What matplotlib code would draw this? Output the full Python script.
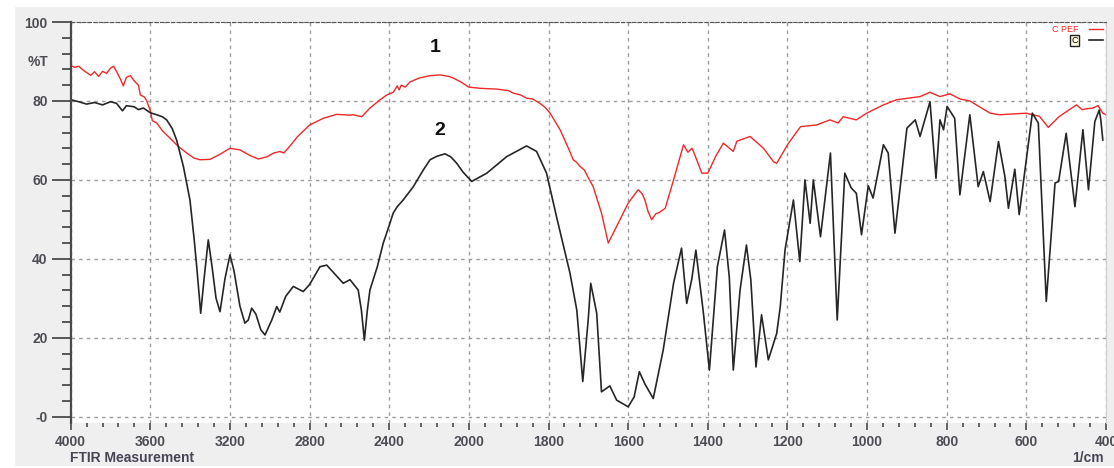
import numpy as np
import matplotlib
matplotlib.use("Agg")
import matplotlib.pyplot as plt
from matplotlib.patches import Rectangle
from matplotlib.ticker import FixedLocator, FixedFormatter

plt.rcParams['font.family'] = ['Liberation Sans', 'DejaVu Sans']

# espectro 1: C PEF (rojo)
wn_pef = [4000, 3980, 3960, 3940, 3920, 3900, 3880, 3860, 3840, 3820, 3800, 3785,
          3770, 3750, 3736, 3720, 3700, 3680, 3660, 3650, 3630, 3618, 3600, 3590,
          3568, 3540, 3500, 3460, 3417, 3380, 3350, 3300, 3250, 3200, 3150, 3100,
          3058, 3016, 2980, 2949, 2930, 2900, 2860, 2800, 2731, 2664, 2600, 2581,
          2538, 2497, 2446, 2413, 2380, 2360, 2350, 2340, 2320, 2296, 2250, 2195,
          2145, 2100, 2078, 2040, 2000, 1972, 1930, 1900, 1889, 1870, 1855, 1840,
          1822, 1810, 1796, 1771, 1750, 1738, 1730, 1721, 1710, 1700, 1688, 1667,
          1650, 1640, 1629, 1600, 1575, 1565, 1558, 1550, 1541, 1530, 1524, 1507,
          1486, 1461, 1450, 1440, 1436, 1415, 1400, 1380, 1361, 1336, 1327, 1294,
          1260, 1235, 1227, 1198, 1167, 1127, 1093, 1073, 1060, 1027, 1001, 959,
          926, 867, 842, 817, 792, 767, 742, 691, 667, 600, 567, 545, 517, 492,
          474, 460, 450, 433, 420, 408, 400]
t_pef = [89.0, 88.5, 88.8, 87.9, 87.2, 86.5, 87.4, 86.2, 87.5, 87.0, 88.3, 88.8,
         87.5, 85.5, 83.8, 86.0, 86.4, 85.0, 84.0, 81.5, 81.0, 80.0, 77.5, 75.0,
         74.4, 72.5, 70.5, 68.5, 66.8, 65.5, 65.1, 65.2, 66.5, 68.0, 67.6, 66.2,
         65.3, 65.8, 66.8, 67.2, 66.8, 68.5, 71.0, 73.9, 75.6, 76.6, 76.4, 76.5,
         76.0, 78.2, 80.3, 81.5, 82.2, 83.8, 82.8, 84.0, 83.5, 84.8, 85.8, 86.4,
         86.6, 86.2, 85.8, 84.8, 83.5, 83.2, 83.0, 82.6, 82.0, 81.5, 80.7, 80.5,
         79.4, 78.5, 76.9, 72.7, 68.0, 65.1, 64.5, 63.4, 62.5, 60.5, 58.3, 51.6,
         44.0, 46.0, 48.2, 54.1, 57.5, 56.5, 54.9, 52.0, 49.9, 51.5, 51.6, 52.8,
         60.0, 68.9, 67.0, 68.0, 67.2, 61.7, 61.7, 66.0, 69.3, 67.2, 69.8, 71.0,
         68.0, 64.6, 64.2, 69.2, 73.5, 73.9, 75.2, 74.4, 76.0, 75.2, 76.9, 79.0,
         80.3, 81.1, 82.2, 81.1, 81.8, 80.5, 80.0, 76.9, 76.5, 76.9, 76.1, 73.3,
         76.1, 77.8, 79.0, 77.8, 78.0, 78.2, 78.8, 76.9, 76.5]

# espectro 2: C (negro)
wn_c = [4000, 3960, 3920, 3880, 3840, 3800, 3770, 3740, 3720, 3680, 3660, 3635,
        3600, 3568, 3540, 3518, 3490, 3468, 3434, 3401, 3380, 3367, 3347, 3330,
        3309, 3290, 3270, 3250, 3225, 3200, 3180, 3150, 3125, 3108, 3091, 3070,
        3045, 3024, 2990, 2965, 2950, 2920, 2882, 2832, 2800, 2748, 2714, 2680,
        2631, 2597, 2556, 2540, 2525, 2510, 2497, 2460, 2430, 2400, 2380, 2360,
        2330, 2279, 2229, 2195, 2160, 2120, 2090, 2061, 2030, 1993, 1955, 1905,
        1870, 1855, 1830, 1805, 1780, 1746, 1729, 1714, 1700, 1694, 1679, 1667,
        1646, 1629, 1600, 1585, 1572, 1558, 1537, 1512, 1486, 1466, 1453, 1440,
        1430, 1411, 1396, 1376, 1358, 1346, 1336, 1319, 1303, 1292, 1279, 1265,
        1248, 1227, 1218, 1206, 1185, 1169, 1156, 1143, 1135, 1117, 1092, 1075,
        1056, 1040, 1027, 1014, 997, 985, 959, 947, 930, 900, 879, 867, 842, 827,
        817, 808, 799, 780, 767, 742, 721, 708, 691, 670, 654, 645, 629, 618,
        585, 570, 550, 528, 519, 500, 478, 458, 444, 428, 417, 413, 408]
t_c = [80.3, 79.8, 79.2, 79.6, 79.0, 79.8, 79.4, 77.5, 78.8, 78.5, 77.8, 78.2,
       77.0, 76.5, 76.0, 75.2, 73.0, 70.1, 63.4, 54.9, 45.0, 38.0, 26.2, 35.0,
       44.8, 38.0, 30.0, 26.6, 35.0, 41.0, 37.0, 28.0, 23.7, 24.5, 27.5, 26.0,
       22.0, 20.7, 24.5, 27.9, 26.5, 30.5, 33.0, 31.7, 33.5, 38.0, 38.4, 36.5,
       33.8, 34.7, 32.1, 27.0, 19.4, 27.0, 32.1, 38.0, 44.0, 48.5, 51.6, 53.2,
       54.9, 58.3, 62.5, 65.1, 66.0, 66.6, 65.8, 64.2, 62.0, 59.6, 61.7, 65.9,
       67.8, 68.6, 67.2, 61.7, 50.7, 36.3, 27.0, 8.9, 25.0, 33.8, 26.2, 6.3,
       7.8, 4.2, 2.5, 5.0, 11.4, 8.3, 4.6, 16.9, 33.8, 42.7, 28.7, 35.0,
       42.2, 26.2, 11.8, 38.0, 47.3, 35.3, 11.8, 32.1, 43.5, 34.7, 12.6, 25.8,
       14.4, 21.1, 27.9, 42.3, 54.9, 39.3, 60.0, 49.0, 60.0, 45.6, 66.8, 24.5,
       61.7, 58.0, 56.6, 46.1, 58.5, 55.4, 68.9, 66.8, 46.5, 73.1, 75.2, 71.0,
       79.8, 60.4, 75.2, 72.7, 78.6, 75.6, 56.2, 76.5, 58.3, 62.1, 54.5, 69.7,
       60.9, 52.8, 62.7, 51.2, 76.9, 74.4, 29.2, 59.2, 59.6, 71.8, 53.2, 72.7,
       57.5, 74.8, 77.7, 75.2, 70.1]

x_major = [4000, 3600, 3200, 2800, 2400, 2000, 1800, 1600, 1400, 1200, 1000, 800, 600, 400]
y_major = [0, 20, 40, 60, 80, 100]
y_labels = ['-0', '20', '40', '60', '80', '100']


# escala del eje x: 400 cm-1 por division hasta 2000, luego 200
def fwd(w):
    w = np.asarray(w, dtype=float)
    return np.where(w >= 2000, 8 + (w - 2000) / 400.0, w / 200.0 - 2)


def inv(p):
    p = np.asarray(p, dtype=float)
    return np.where(p >= 8, 2000 + (p - 8) * 400.0, (p + 2) * 200.0)


fig = plt.figure(figsize=(11.14, 4.68), dpi=100, facecolor='white')
fig.patches.append(Rectangle((15 / 1114, 2 / 468), 1 - 15 / 1114, 459 / 468,
                             transform=fig.transFigure, facecolor='#efefef',
                             edgecolor='none', zorder=-10))
ax = fig.add_axes([70.7 / 1114, 45 / 468, 1035.3 / 1114, 401 / 468])
ax.set_facecolor('white')

ax.set_xscale('function', functions=(fwd, inv))
ax.set_xlim(4000, 400)
ax.set_ylim(-1.6, 100)

red_line, = ax.plot(wn_pef, t_pef, color='#f02828', lw=1.0, label='C PEF')
blk_line, = ax.plot(wn_c, t_c, color='#262626', lw=1.2, label='C')

ax.text(2170, 93.5, '1', fontsize=14, fontweight='bold', ha='center', va='center', color='#111111')
ax.text(2145, 72.5, '2', fontsize=14, fontweight='bold', ha='center', va='center', color='#111111')

x_minor = [w for w in range(4000, 2000, -80) if w not in x_major] + \
          [w for w in range(2000, 399, -40) if w not in x_major]
ax.xaxis.set_major_locator(FixedLocator(x_major))
ax.xaxis.set_major_formatter(FixedFormatter([str(v) for v in x_major]))
ax.xaxis.set_minor_locator(FixedLocator(x_minor))
ax.xaxis.set_minor_formatter(FixedFormatter([]))
ax.yaxis.set_major_locator(FixedLocator(y_major))
ax.yaxis.set_major_formatter(FixedFormatter(y_labels))
ax.yaxis.set_minor_locator(FixedLocator([v for v in range(0, 100, 4) if v not in y_major]))

ax.tick_params(axis='y', which='major', length=13.7, width=1.3, color='#4a4a4a',
               pad=3, labelsize=10, labelcolor='#4d4d55')
ax.tick_params(axis='y', which='minor', length=6.5, width=1.3, color='#4a4a4a')
ax.tick_params(axis='x', which='major', length=5, width=1.2, color='#4a4a4a',
               pad=4, labelsize=10, labelcolor='#4d4d55')
ax.tick_params(axis='x', which='minor', length=3, width=1.2, color='#4a4a4a')
for lab in ax.get_xticklabels() + ax.get_yticklabels():
    lab.set_fontweight('bold')

ax.grid(which='major', color='#9c9c9c', linestyle=(0, (2.5, 3)), linewidth=1)
ax.spines['left'].set_color('#4a4a4a')
ax.spines['left'].set_linewidth(1.6)
ax.spines['bottom'].set_visible(False)
ax.spines['right'].set_color('#cfcfcf')
ax.spines['top'].set_color('#555555')
ax.spines['top'].set_linestyle((0, (3, 2)))

leg = ax.legend(handles=[red_line, blk_line], loc='upper right', markerfirst=False,
                frameon=False, fontsize=6.5, handlelength=1.6, handletextpad=1.2,
                borderaxespad=0.1, borderpad=0.2, labelspacing=0.25)
leg.get_texts()[0].set_color('#f02828')
leg.get_texts()[1].set_bbox(dict(facecolor='#fffbe0', edgecolor='#222222', pad=1, lw=1))

fig.text(48 / 1114, 1 - 62 / 468, '%T', ha='right', va='center', fontsize=10,
         fontweight='bold', color='#4d4d55')
fig.text(70 / 1114, 1 - 458 / 468, 'FTIR Measurement', ha='left', va='center',
         fontsize=10, fontweight='bold', color='#4a4555')
fig.text(1104 / 1114, 1 - 458 / 468, '1/cm', ha='right', va='center',
         fontsize=10, fontweight='bold', color='#4a4555')

fig.savefig('out.png', dpi=100, facecolor=fig.get_facecolor())
